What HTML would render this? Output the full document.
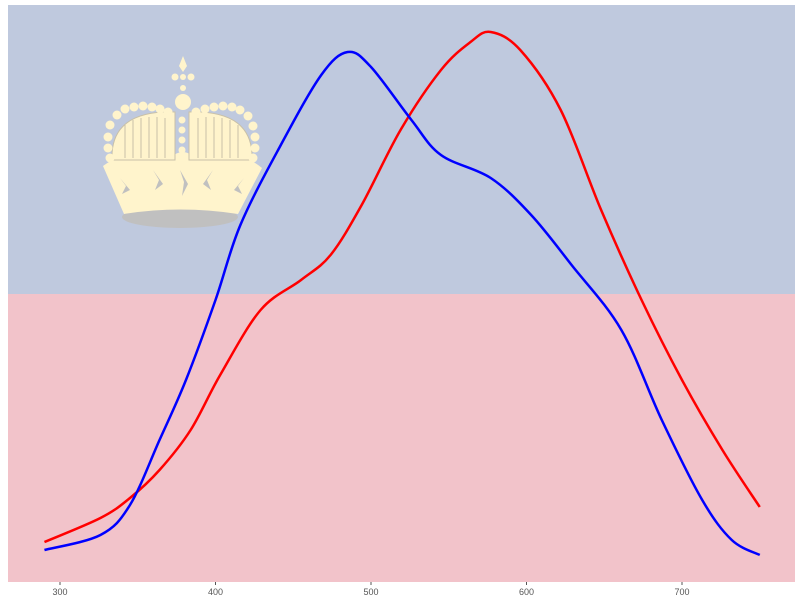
<!DOCTYPE html>
<html><head><meta charset="utf-8"><style>
body{margin:0;background:#fff;font-family:"Liberation Sans",sans-serif}
svg{display:block}
</style></head><body>
<svg width="800" height="600">
<rect x="8" y="5" width="787" height="289" fill="#bfc9de"/>
<rect x="8" y="294" width="787" height="288" fill="#f2c3ca"/>
<g fill="#fff4cc">
 <ellipse cx="180" cy="217" rx="58" ry="11" fill="#c0c0c0"/>
 <path d="M103,166 Q125,150 140,160 Q155,148 170,158 Q183,146 195,158 Q210,148 225,160 Q240,150 262,168 L238,214 Q180,205 124,214 Z"/>
 <path d="M112,160 Q110,110 175,112 L175,160 Z M189,160 L189,112 Q254,110 252,160 Z" fill="#fff4cc" stroke="#c8c0a8" stroke-width="1"/>
 <g stroke="#c8c0a8" stroke-width="1">
  <line x1="125" y1="125" x2="125" y2="158"/><line x1="133" y1="120" x2="133" y2="158"/><line x1="141" y1="118" x2="141" y2="158"/><line x1="149" y1="117" x2="149" y2="158"/><line x1="157" y1="117" x2="157" y2="158"/><line x1="165" y1="118" x2="165" y2="158"/>
  <line x1="198" y1="118" x2="198" y2="158"/><line x1="206" y1="117" x2="206" y2="158"/><line x1="214" y1="117" x2="214" y2="158"/><line x1="222" y1="118" x2="222" y2="158"/><line x1="230" y1="120" x2="230" y2="158"/><line x1="238" y1="125" x2="238" y2="158"/>
 </g>
 <circle cx="110" cy="125" r="4.5"/><circle cx="108" cy="137" r="4.5"/><circle cx="108" cy="148" r="4.5"/><circle cx="110" cy="158" r="4.5"/>
 <circle cx="117" cy="115" r="4.5"/><circle cx="125" cy="109" r="4.5"/><circle cx="134" cy="107" r="4.5"/><circle cx="143" cy="106" r="4.5"/><circle cx="152" cy="107" r="4.5"/><circle cx="160" cy="109" r="4.5"/><circle cx="168" cy="112" r="4.5"/>
 <circle cx="196" cy="112" r="4.5"/><circle cx="205" cy="109" r="4.5"/><circle cx="214" cy="107" r="4.5"/><circle cx="223" cy="106" r="4.5"/><circle cx="232" cy="107" r="4.5"/><circle cx="240" cy="110" r="4.5"/><circle cx="248" cy="116" r="4.5"/>
 <circle cx="253" cy="126" r="4.5"/><circle cx="255" cy="137" r="4.5"/><circle cx="255" cy="148" r="4.5"/><circle cx="253" cy="158" r="4.5"/>
 <circle cx="182" cy="120" r="3.5"/><circle cx="182" cy="130" r="3.5"/><circle cx="182" cy="140" r="3.5"/><circle cx="182" cy="150" r="3.5"/>
 <circle cx="183" cy="102" r="8"/><circle cx="183" cy="88" r="3"/><circle cx="175" cy="77" r="3.5"/><circle cx="191" cy="77" r="3.5"/><circle cx="183" cy="77" r="3"/>
 <path d="M183,56 L187,66 L183,72 L179,66 Z"/>
 <g fill="#c0c0c0"><path d="M120,178 l6,8 l-4,8 l8,-4 z"/><path d="M153,170 l6,10 l-4,10 l8,-6 z"/><path d="M180,170 l4,12 l-2,14 l6,-12 z"/><path d="M213,170 l-6,10 l4,10 l-8,-6 z"/><path d="M244,178 l-6,8 l4,8 l-8,-4 z"/></g>
</g>
<g font-size="9" fill="#555" text-anchor="middle" id="xaxis"></g>
<g id="series"></g>
</svg>
<script>
const xTicks=[300,400,500,600,700];
const blueX=[290,326,345,364,381,400,416,442,468,485,500,526,545,577,603,629,661,687,713,732,750];
const blueY=[0.32,0.47,0.77,1.42,2.02,2.82,3.57,4.37,5.07,5.30,5.15,4.62,4.27,4.04,3.67,3.17,2.52,1.62,0.82,0.42,0.27];
const redX=[290,326,345,364,384,403,429,455,474,494,519,545,564,577,596,622,648,674,700,726,750];
const redY=[0.40,0.64,0.84,1.12,1.52,2.07,2.72,3.02,3.27,3.77,4.52,5.12,5.40,5.50,5.32,4.72,3.72,2.82,2.02,1.32,0.75];
const xs=v=>60+(v-300)*1.555;
const ys=v=>582-v*100;
const NS="http://www.w3.org/2000/svg";
const ax=document.getElementById('xaxis');
xTicks.forEach(t=>{
 const l=document.createElementNS(NS,'line');
 l.setAttribute('x1',xs(t));l.setAttribute('x2',xs(t));l.setAttribute('y1',582);l.setAttribute('y2',585);l.setAttribute('stroke','#555');
 
 
 ax.appendChild(l);
 const tx=document.createElementNS(NS,'text');
 tx.setAttribute('x',xs(t));tx.setAttribute('y',595);tx.textContent=t;
 
 
 ax.appendChild(tx);
});
function path(X,Y){
 const p=X.map((x,i)=>[xs(x),ys(Y[i])]);
 let d='M'+p[0].join(',');
 for(let i=0;i<p.length-1;i++){
  const p0=p[Math.max(i-1,0)],p1=p[i],p2=p[i+1],p3=p[Math.min(i+2,p.length-1)];
  const c1=[p1[0]+(p2[0]-p0[0])/6,p1[1]+(p2[1]-p0[1])/6];
  const c2=[p2[0]-(p3[0]-p1[0])/6,p2[1]-(p3[1]-p1[1])/6];
  d+=' C'+c1.join(',')+' '+c2.join(',')+' '+p2.join(',');
 }
 return d;
}
const g=document.getElementById('series');
[[redX,redY,'#ff0000','red-density-line'],[blueX,blueY,'#0000ff','blue-density-line']].forEach(s=>{
 const e=document.createElementNS(NS,'path');
 e.setAttribute('d',path(s[0],s[1]));e.setAttribute('fill','none');e.setAttribute('stroke',s[2]);e.setAttribute('stroke-width','2.5');
 
 
 g.appendChild(e);
});
</script>
</body></html>
